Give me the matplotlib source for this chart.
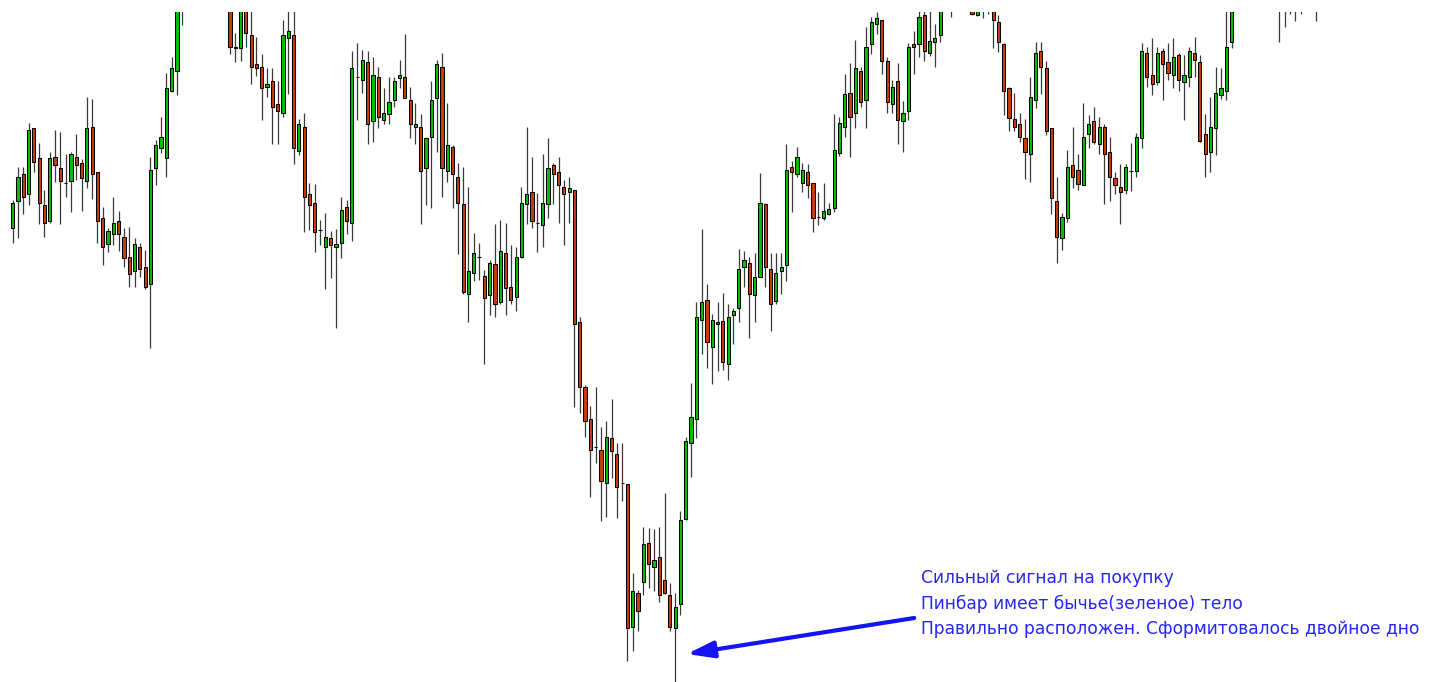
import matplotlib
matplotlib.use('Agg')
import matplotlib.pyplot as plt
import numpy as np

# OHLC values (price points), one entry per candle
opens = [472,499,526,506,572,542,495,479,543,532,
         517,519,543,537,519,573,528,482,456,466,
         479,463,443,429,453,433,416,532,552,542,
         609,629,695,705,735,720,745,765,745,725,
         740,705,653,652,698,665,636,633,613,619,
         596,587,662,665,549,573,506,497,470,453,
         462,453,457,493,477,623,620,638,579,623,
         580,586,600,622,623,600,573,573,532,563,
         602,633,529,553,523,496,406,427,443,424,
         405,436,398,447,413,403,443,496,508,477,
         475,496,535,528,513,508,510,378,313,281,
         253,250,217,262,246,217,216,73,107,118,
         157,133,143,120,105,72,96,181,257,281,
         380,400,353,378,379,336,385,392,433,437,
         405,423,496,431,399,429,435,533,526,517,
         528,517,483,482,486,492,547,573,607,587,
         629,600,656,676,680,639,596,619,579,589,
         656,656,685,647,658,665,705,710,700,725,
         698,700,685,705,697,700,678,656,612,581,
         576,562,546,600,649,632,572,499,462,482,
         535,530,515,566,579,556,573,548,522,513,
         510,529,529,562,647,625,618,649,638,625,
         645,618,623,647,638,566,548,572,605,609,
         658,700,730,755,750,775,750,730,740,715,
         695,715,697,720,705,720,695]

highs = [500,533,533,577,572,557,510,548,570,568,
         546,548,566,541,603,601,528,493,472,503,
         489,472,473,462,457,450,543,560,583,627,
         643,710,735,740,745,760,780,775,755,765,
         750,715,667,708,705,692,663,646,632,632,
         619,680,695,695,581,587,517,516,480,487,
         469,471,503,500,649,657,650,649,643,633,
         612,623,623,640,666,613,597,586,563,619,
         640,647,597,555,537,533,513,467,457,430,
         440,476,480,477,455,453,513,573,543,507,
         546,562,537,543,520,523,510,383,315,294,
         313,273,279,301,257,257,216,127,110,173,
         172,171,173,207,117,107,189,263,317,398,
         471,416,386,398,407,396,392,451,449,443,
         447,527,497,447,447,447,556,539,553,537,
         536,517,508,517,497,586,583,626,637,660,
         633,673,683,688,680,643,620,637,599,657,
         669,695,695,695,676,710,735,720,730,735,
         725,710,705,715,720,710,685,657,613,607,
         587,581,623,658,658,639,572,523,487,550,
         573,546,597,585,593,583,576,563,528,536,
         536,557,567,657,653,662,653,652,657,662,
         647,645,653,663,645,586,603,633,632,695,
         710,740,770,765,790,785,760,770,750,725,
         720,725,725,730,735,730,725]

lows = [457,462,486,495,528,476,463,477,518,476,
        503,488,520,489,512,501,457,435,448,455,
        449,433,413,413,423,411,352,515,547,523,
        608,605,675,695,700,715,740,730,710,720,
        695,646,638,639,653,616,624,580,603,556,
        556,583,606,536,545,468,470,448,455,411,
        422,372,442,466,459,580,607,556,558,572,
        576,576,593,612,602,562,556,476,495,492,
        548,503,518,492,446,406,378,419,420,336,
        385,383,396,385,396,389,442,476,472,448,
        453,482,496,477,455,477,293,287,263,203,
        237,179,183,222,182,199,39,49,69,105,
        112,109,98,106,69,10,85,180,223,262,
        346,332,316,329,330,320,356,378,413,362,
        378,423,413,369,396,406,419,488,523,508,
        502,468,475,480,485,488,544,563,543,572,
        593,572,646,666,626,587,587,556,548,580,
        626,643,639,644,633,658,692,683,692,695,
        692,685,684,682,686,652,648,585,569,569,
        558,521,518,592,606,565,486,437,450,478,
        512,510,515,552,556,546,496,499,506,476,
        506,509,523,552,613,605,615,600,620,612,
        609,580,613,623,558,523,528,545,601,600,
        652,695,725,725,745,740,715,725,705,658,
        673,686,679,686,695,692,679]

closes = [497,523,503,570,538,497,477,542,535,519,
          517,546,535,522,572,526,479,453,469,477,
          466,442,426,456,431,413,530,555,563,612,
          632,698,725,730,710,750,770,740,720,755,
          705,653,652,700,667,633,632,612,616,593,
          589,665,669,552,576,503,495,468,470,463,
          455,456,490,479,632,623,640,576,625,583,
          587,598,619,625,602,576,576,529,562,600,
          636,532,555,526,497,408,429,447,443,402,
          437,396,449,412,400,443,497,506,479,477,
          497,532,526,515,506,512,376,313,279,250,
          253,219,263,249,213,217,72,109,89,156,
          136,140,105,107,73,93,180,259,283,383,
          398,358,380,376,338,383,389,431,440,406,
          423,497,433,396,427,433,530,528,543,530,
          515,482,483,489,491,550,577,606,583,632,
          598,653,678,682,639,598,613,580,587,653,
          653,683,649,659,662,700,725,695,720,705,
          715,686,700,695,710,680,658,609,582,573,
          563,548,603,647,633,569,502,463,483,533,
          523,516,563,576,558,573,546,523,515,508,
          533,529,563,649,623,616,647,636,627,643,
          620,625,649,640,559,546,573,607,612,653,
          700,730,760,735,780,750,720,760,710,700,
          710,698,715,700,725,700,715]

annotation_lines = ["Сильный сигнал на покупку",
                    "Пинбар имеет бычье(зеленое) тело",
                    "Правильно расположен. Сформитовалось двойное дно"]
pinbar_index = 125

o = np.array(opens, dtype=float)
h = np.array(highs, dtype=float)
l = np.array(lows, dtype=float)
c = np.array(closes, dtype=float)
idx = np.arange(len(o))
up = c >= o

W, H = 1429, 682
fig = plt.figure(figsize=(W / 100, H / 100), dpi=100)
fig.patch.set_facecolor('white')
ax = fig.add_axes([0, 0, 1, 670 / 682])
ax.set_xlim(-2.39, 267.23)
ax.set_ylim(18, 688)
ax.axis('off')

ax.vlines(idx, l, h, color='#3a3a3a', linewidth=0.9, zorder=1)
body_colors = np.where(up, '#00C000', '#C83C0A')
ax.bar(idx, np.abs(c - o), bottom=np.minimum(o, c), width=0.6,
       color=body_colors, edgecolor='black', linewidth=0.75, zorder=2)

# arrow pointing at the pinbar
ax.annotate('', xy=(pinbar_index + 2.2, 46), xytext=(pinbar_index + 45.1, 82),
            arrowprops=dict(arrowstyle='-|>,head_length=1.6,head_width=0.5',
                            color='#1414F0', lw=3.0, shrinkA=0, shrinkB=0),
            zorder=3)

ys = [578, 604, 629]
for txt, y in zip(annotation_lines, ys):
    fig.text(921 / W, 1 - y / H, txt, color='#2626F8', fontsize=12.3,
             family='DejaVu Sans', va='center', ha='left')

fig.savefig('out.png', dpi=100, facecolor='white')
